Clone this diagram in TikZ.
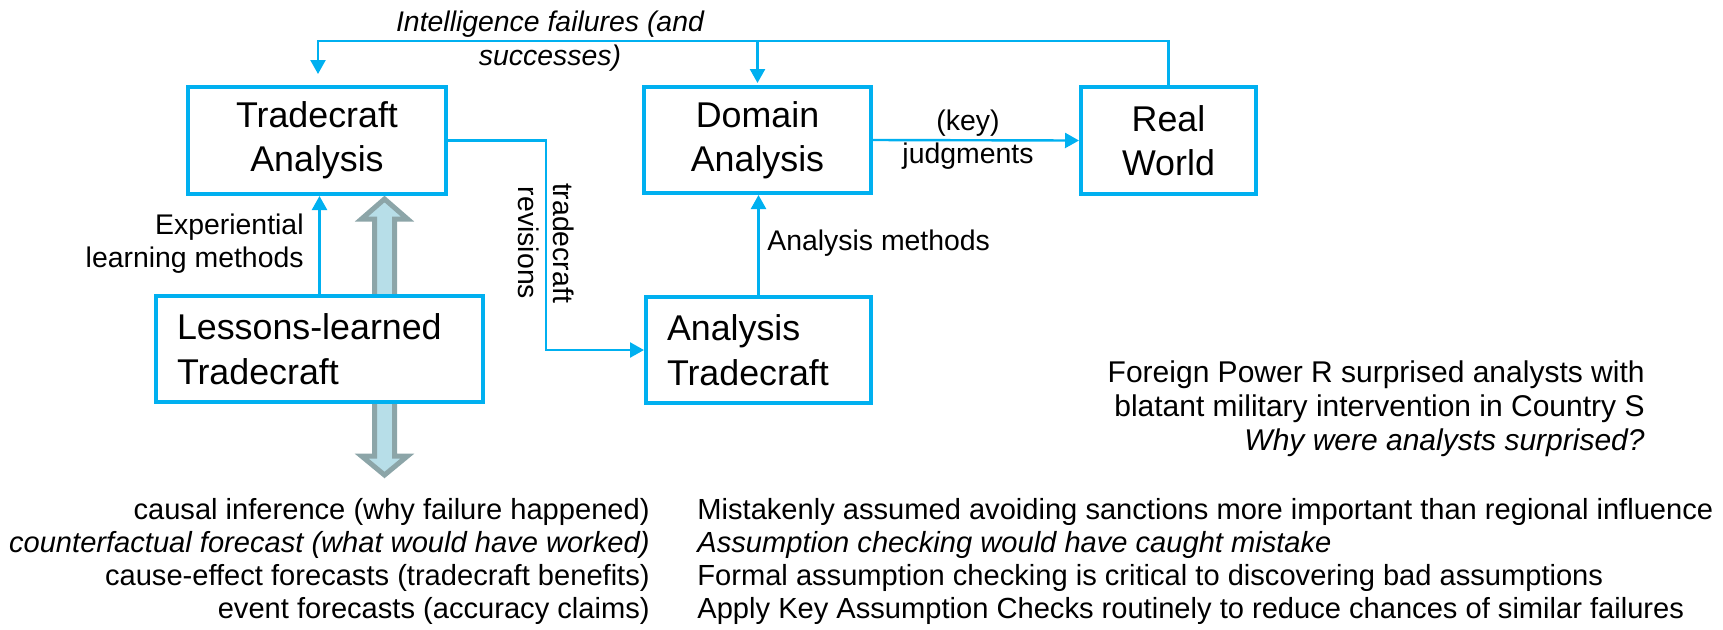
\documentclass[tikz,border=0pt]{standalone}
\usepackage{fontspec}
\setmainfont{Liberation Sans}
\usetikzlibrary{arrows.meta,calc}
\definecolor{cblue}{RGB}{0,176,240}
\definecolor{fatfill}{RGB}{183,222,232}
\definecolor{fatline}{RGB}{140,165,168}
\begin{document}
\begin{tikzpicture}[x=0.5pt,y=-0.5pt,
  box/.style={draw=cblue,line width=2pt,fill=white,inner sep=0pt,align=center,
    font=\fontsize{17.9}{22.2}\selectfont},
  lbox/.style={box,align=left,inner xsep=10.5pt,inner ysep=0pt},
  conn/.style={draw=cblue,line width=1.2pt},
  arr/.style={conn,-{Triangle[length=7pt,width=7.5pt]}},
  lbl/.style={inner sep=0pt,font=\fontsize{14.2}{16.6}\selectfont},
  bot/.style={inner sep=0pt,font=\fontsize{14.55}{16.6}\selectfont},
  fat/.style={draw=fatline,fill=fatfill,line width=2.5pt,line join=miter}]
\useasboundingbox (0,0) rectangle (1723,629);
% fat double arrows
\draw[fat] (374.5,298) -- (374.5,219) -- (361.5,219) -- (384.5,199) -- (407.5,219) -- (394.5,219) -- (394.5,298) -- cycle;
\draw[fat] (374.5,400) -- (374.5,456) -- (361.5,456) -- (384.5,475) -- (407.5,456) -- (394.5,456) -- (394.5,400) -- cycle;
% boxes
\node[box,minimum width=129pt,minimum height=53.5pt] (ta) at (317,140.5) {Tradecraft\\Analysis};
\node[box,minimum width=113.5pt,minimum height=53pt] (da) at (757.5,140) {Domain\\Analysis};
\node[box,minimum width=87.5pt,minimum height=53.5pt] (rw) at (1168.5,140.5) {Real\\World};
\node[lbox,text width=91.5pt,minimum height=53pt] (at) at (758.5,350) {Analysis\\Tradecraft};
\node[lbox,text width=142.5pt,minimum height=53pt] (ll) at (319.5,349) {Lessons-learned\\Tradecraft};
% connectors
\coordinate (tl) at (318,41);
\coordinate (tin) at (318,74);
\coordinate (rv) at (546,243);
\draw[arr] (rw.north) |- (tl) -- (tin);
\draw[arr] (da.north |- tl) -- ([yshift=1pt]da.north);
\draw[arr] (ta.east) -| (rv) |- (at.west);
\draw[arr] (ll.north) -- (ll.north |- ta.south);
\draw[arr] (at.north) -- (at.north |- da.south);
\draw[arr] (da.east) -- (rw.west);
% labels
\node[lbl,align=center,font=\fontsize{14.2}{17}\selectfont\itshape] (lint) at (550,41) {Intelligence failures (and\\successes)};
\node[lbl,align=center] (lkey) at (968,140) {(key)\\judgments};
\node[lbl,align=right,anchor=east] (lexp) at (304,244) {Experiential\\learning methods};
\node[lbl,align=center,rotate=-90,font=\fontsize{14.2}{17.5}\selectfont] (lrev) at (rv) {tradecraft\\revisions};
\node[lbl,anchor=west] (lam) at (767,243) {Analysis methods};
\node[inner sep=0pt,font=\fontsize{15}{16.9}\selectfont,align=right,anchor=east] (lfp) at (1645,409) {Foreign Power R surprised analysts with\\blatant military intervention in Country S\\\textit{Why were analysts surprised?}};
\node[bot,align=right,anchor=east] (lcaus) at (650,561.5) {causal inference (why failure happened)\\\textit{counterfactual forecast (what would have worked)}\\cause-effect forecasts (tradecraft benefits)\\event forecasts (accuracy claims)};
\node[bot,align=left,anchor=west] (lmis) at (697,561.5) {Mistakenly assumed avoiding sanctions more important than regional influence\\\textit{Assumption checking would have caught mistake}\\Formal assumption checking is critical to discovering bad assumptions\\Apply Key Assumption Checks routinely to reduce chances of similar failures};
\end{tikzpicture}
\end{document}
